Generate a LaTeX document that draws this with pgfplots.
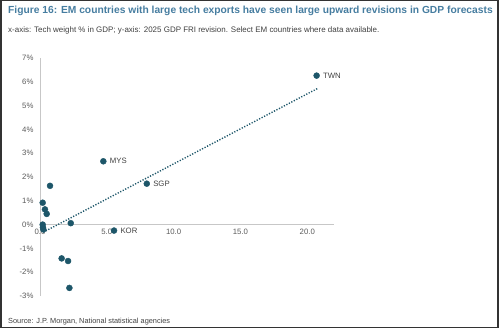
\documentclass[border=0pt]{standalone}
\usepackage{pgfplots}
\pgfplotsset{compat=1.18}
\usepackage{fontspec}
\setmainfont{Liberation Sans}
\definecolor{ttl}{HTML}{467DA0}
\definecolor{pt}{HTML}{1D5669}
\definecolor{txt}{HTML}{404040}
\definecolor{tick}{HTML}{5A5A5A}
\begin{document}
\begin{tikzpicture}[x=1bp,y=1bp]
\path[use as bounding box] (0,0) rectangle (500,329);
\draw[line width=1.5bp, black!80] (0.75,1.5) rectangle (498,328.25);
\node[anchor=west, text=ttl, font=\fontsize{10.3}{12}\selectfont\bfseries, inner sep=0] at (8,318.5) {Figure 16: EM countries with large tech exports have seen large upward revisions in GDP forecasts};
\node[anchor=west, text=txt, font=\fontsize{8}{9}\selectfont, inner sep=0] at (8,298.5) {x-axis: Tech weight \% in GDP; y-axis: 2025 GDP FRI revision. Select EM countries where data available.};
\node[anchor=west, text=txt, font=\fontsize{7.4}{9}\selectfont, inner sep=0] at (8,7) {Source: J.P. Morgan, National statistical agencies};
\begin{axis}[
  at={(40bp,33bp)}, anchor=south west,
  scale only axis, width=294bp, height=238bp,
  xmin=0, xmax=22, ymin=-3, ymax=7,
  axis x line=middle, axis y line=left,
  axis line style={-, black!22, line width=0.8bp},
  xtick={0,5,10,15,20},
  xticklabels={0.0,5.0,10.0,15.0,20.0},
  ytick={-3,-2,-1,0,1,2,3,4,5,6,7},
  yticklabels={-3\%,-2\%,-1\%,0\%,1\%,2\%,3\%,4\%,5\%,6\%,7\%},
  major tick length=0pt,
  tick label style={font=\fontsize{7.8}{9}\selectfont, text=tick},
  xticklabel style={yshift=-1bp},
  yticklabel style={xshift=-3bp},
  hide obscured x ticks=false,
  hide obscured y ticks=false,
  clip=false,
]
\addplot[pt, line width=1.4bp, dash pattern=on 1.2bp off 1.6bp] coordinates {(0.25,-0.32) (20.8,5.73)};
\addplot[only marks, mark=*, mark size=3bp, mark options={fill=pt, draw=pt},
  nodes near coords, point meta=explicit symbolic,
  every node near coord/.style={anchor=west, xshift=3bp, font=\fontsize{7.8}{9}\selectfont, text=txt}]
  table[meta=lab] {
x y lab
20.7 6.26 TWN
4.74 2.66 MYS
7.99 1.72 SGP
5.54 -0.25 KOR
};
\addplot[only marks, mark=*, mark size=3bp, mark options={fill=pt, draw=pt}] coordinates {
(0.75,1.63) (0.2,0.92) (0.37,0.64) (0.5,0.45) (0.2,0.0) (0.22,-0.12) (0.25,-0.2) (2.3,0.06)
(1.62,-1.42) (2.1,-1.53) (2.2,-2.66)
};
\end{axis}
\end{tikzpicture}
\end{document}
